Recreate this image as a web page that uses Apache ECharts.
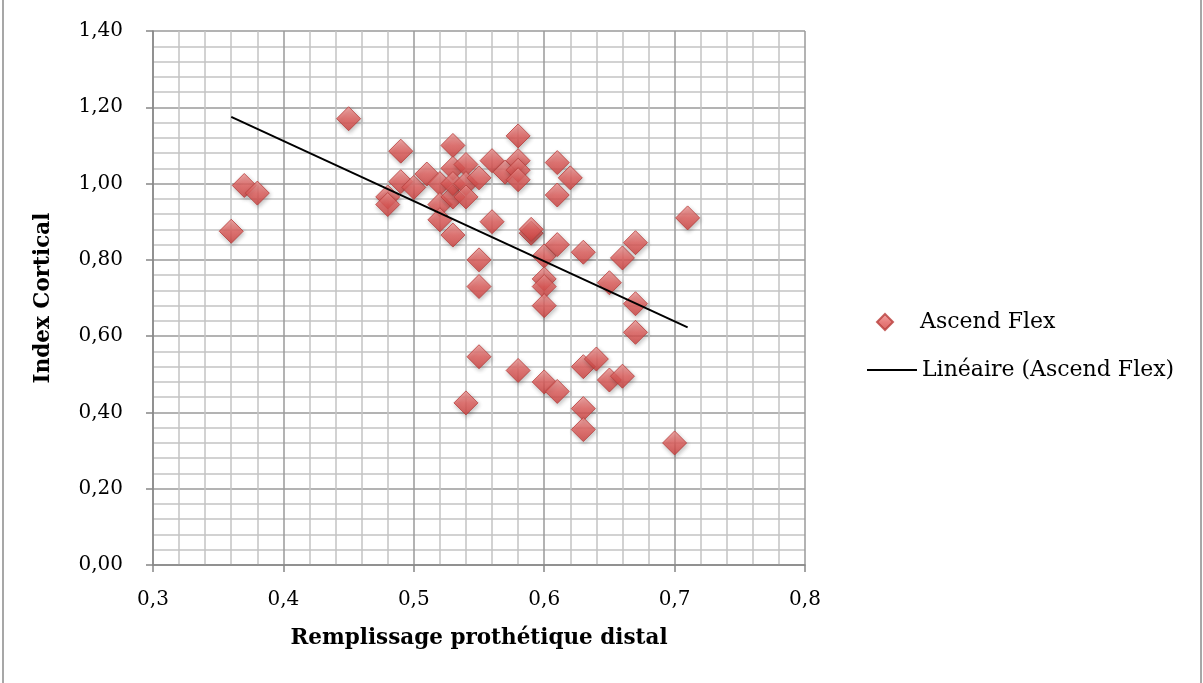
<!DOCTYPE html>
<html>
<head>
<meta charset="utf-8">
<script src="https://cdn.jsdelivr.net/npm/echarts@6/dist/echarts.min.js"></script>
<style>
html,body{margin:0;padding:0;background:#fff;}
#chart{width:1203px;height:683px;}
</style>
</head>
<body>
<div id="chart"></div>
<script>
// Remplissage prothétique distal (x) vs Index Cortical (y)
const xValues = [0.36,0.37,0.38,0.45,0.48,0.48,0.49,0.49,0.50,0.51,0.52,0.52,0.52,0.53,0.53,0.53,0.53,0.53,0.54,0.54,0.54,0.54,0.55,0.55,0.55,0.55,0.56,0.56,0.57,0.58,0.58,0.58,0.58,0.58,0.59,0.60,0.60,0.60,0.60,0.60,0.61,0.61,0.61,0.61,0.62,0.63,0.63,0.63,0.63,0.64,0.65,0.65,0.66,0.66,0.67,0.67,0.67,0.70,0.71,0.59];
const yValues = [0.875,0.995,0.975,1.17,0.965,0.945,1.085,1.005,0.99,1.025,1.00,0.945,0.905,1.10,1.04,0.965,1.00,0.865,1.05,1.00,0.965,0.425,1.015,0.80,0.73,0.546,1.06,0.90,1.03,1.125,1.06,1.035,1.01,0.51,0.87,0.81,0.75,0.73,0.68,0.48,1.055,0.97,0.84,0.455,1.015,0.82,0.52,0.41,0.355,0.54,0.74,0.485,0.805,0.495,0.845,0.685,0.61,0.32,0.91,0.88];
const trendX = [0.36, 0.71];
const trendY = [1.175, 0.623];
const seriesNames = ['Ascend Flex', 'Linéaire (Ascend Flex)'];
const xAxisTitle = 'Remplissage prothétique distal';
const yAxisTitle = 'Index Cortical';

const scatterData = xValues.map((x, i) => [x, yValues[i]]);
const trendData = trendX.map((x, i) => [x, trendY[i]]);

const FONT = 'DejaVu Serif';
const chart = echarts.init(document.getElementById('chart'));
const diamondColor = new echarts.graphic.LinearGradient(0, 0, 0, 1, [
  {offset: 0, color: '#f29a98'},
  {offset: 0.5, color: '#e25e5c'},
  {offset: 1, color: '#d0403e'}
]);
chart.setOption({
  animation: false,
  backgroundColor: '#fff',
  textStyle: {fontFamily: FONT},
  graphic: [
    {type: 'line', shape: {x1: 3, y1: 0, x2: 3, y2: 683}, style: {stroke: '#8a8a8a', lineWidth: 1.5}, silent: true},
    {type: 'line', shape: {x1: 1201, y1: 0, x2: 1201, y2: 683}, style: {stroke: '#8a8a8a', lineWidth: 1.5}, silent: true}
  ],
  grid: {left: 153, right: 398, top: 31, bottom: 118, containLabel: false},
  legend: [
    {
      orient: 'vertical', left: 871, top: 304,
      itemWidth: 16, itemHeight: 16,
      textStyle: {fontFamily: FONT, fontSize: 22, color: '#000', lineHeight: 26, padding: [0, 0, 0, 22]},
      data: [{name: seriesNames[0], icon: 'diamond'}]
    },
    {
      orient: 'vertical', left: 862, top: 352,
      itemWidth: 50, itemHeight: 2,
      textStyle: {fontFamily: FONT, fontSize: 22, color: '#000', lineHeight: 26},
      data: [{name: seriesNames[1], icon: 'rect', itemStyle: {color: '#000'}}]
    }
  ],
  xAxis: {
    type: 'value', min: 0.3, max: 0.8, interval: 0.1,
    name: xAxisTitle, nameLocation: 'middle', nameGap: 62,
    nameTextStyle: {fontFamily: FONT, fontSize: 21.5, fontWeight: 'bold', color: '#000'},
    axisLine: {show: true, onZero: false, lineStyle: {color: '#868686', width: 1.5}},
    axisTick: {show: true, length: 7, lineStyle: {color: '#868686', width: 1.5}},
    axisLabel: {fontFamily: FONT, fontSize: 20, color: '#000', margin: 25,
      formatter: v => v.toFixed(1).replace('.', ',')},
    splitLine: {show: true, lineStyle: {color: '#9a9a9a', width: 1.5}},
    minorTick: {show: true, splitNumber: 5, length: 0},
    minorSplitLine: {show: true, lineStyle: {color: '#c4c4c4', width: 1.5}}
  },
  yAxis: {
    type: 'value', min: 0, max: 1.4, interval: 0.2,
    name: yAxisTitle, nameLocation: 'middle', nameGap: 99, nameRotate: 90,
    nameTextStyle: {fontFamily: FONT, fontSize: 21.5, fontWeight: 'bold', color: '#000'},
    axisLine: {show: true, onZero: false, lineStyle: {color: '#868686', width: 1.5}},
    axisTick: {show: true, length: 7, lineStyle: {color: '#868686', width: 1.5}},
    axisLabel: {fontFamily: FONT, fontSize: 20, color: '#000', margin: 30,
      formatter: v => v.toFixed(2).replace('.', ',')},
    splitLine: {show: true, lineStyle: {color: '#9a9a9a', width: 1.5}},
    minorTick: {show: true, splitNumber: 5, length: 0},
    minorSplitLine: {show: true, lineStyle: {color: '#c4c4c4', width: 1.5}}
  },
  series: [
    {
      name: seriesNames[0], type: 'scatter', symbol: 'diamond', symbolSize: 24,
      data: scatterData, z: 3,
      itemStyle: {color: diamondColor, borderColor: '#b83c3a', borderWidth: 1,
        shadowBlur: 4, shadowOffsetX: 1, shadowOffsetY: 2, shadowColor: 'rgba(0,0,0,0.3)'}
    },
    {
      name: seriesNames[1], type: 'line', data: trendData, symbol: 'none', z: 4,
      lineStyle: {color: '#000', width: 2}, itemStyle: {color: '#000'}
    }
  ]
});
</script>
</body>
</html>
